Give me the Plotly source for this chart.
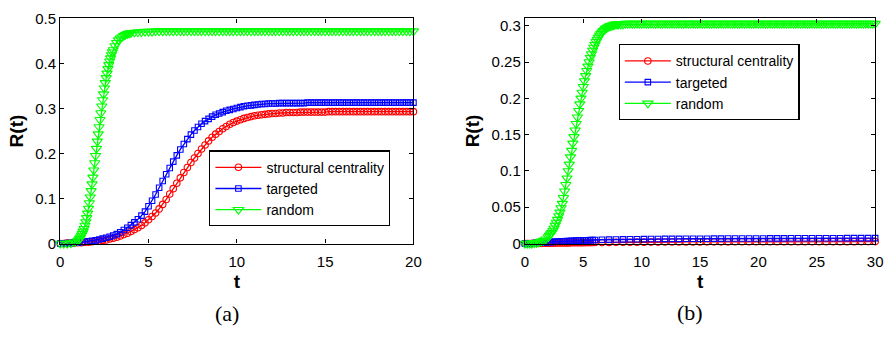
import numpy as np
import plotly.graph_objects as go

# ---------------- panel (a): t in [0, 20] ----------------
t_a = np.round(np.arange(0, 20.001, 0.2), 2)

r_a_structural = [
    0.000, 0.000, 0.001, 0.001, 0.001, 0.002, 0.002, 0.003, 0.003, 0.004,
    0.005, 0.006, 0.007, 0.008, 0.010, 0.012, 0.014, 0.017, 0.020, 0.023,
    0.027, 0.031, 0.035, 0.040, 0.046, 0.053, 0.060, 0.068, 0.077, 0.087,
    0.098, 0.110, 0.122, 0.134, 0.146, 0.158, 0.169, 0.180, 0.190, 0.200,
    0.210, 0.219, 0.228, 0.236, 0.243, 0.249, 0.255, 0.260, 0.265, 0.269,
    0.272, 0.275, 0.278, 0.280, 0.282, 0.284, 0.285, 0.286, 0.287, 0.288,
    0.289, 0.289, 0.290, 0.290, 0.291, 0.291, 0.291, 0.291, 0.292, 0.292,
    0.292, 0.292, 0.292, 0.292, 0.292, 0.292, 0.293, 0.293, 0.293, 0.293,
    0.293, 0.293, 0.293, 0.293, 0.293, 0.293, 0.293, 0.293, 0.293, 0.293,
    0.293, 0.293, 0.293, 0.293, 0.293, 0.293, 0.293, 0.293, 0.293, 0.293,
    0.293,
]

r_a_targeted = [
    0.000, 0.000, 0.001, 0.001, 0.002, 0.002, 0.003, 0.004, 0.005, 0.006,
    0.007, 0.009, 0.011, 0.013, 0.015, 0.018, 0.021, 0.025, 0.030, 0.035,
    0.041, 0.047, 0.054, 0.062, 0.071, 0.083, 0.095, 0.109, 0.124, 0.139,
    0.154, 0.168, 0.182, 0.196, 0.209, 0.221, 0.232, 0.242, 0.251, 0.259,
    0.266, 0.272, 0.277, 0.282, 0.286, 0.289, 0.292, 0.295, 0.297, 0.299,
    0.301, 0.303, 0.305, 0.306, 0.307, 0.308, 0.309, 0.310, 0.310, 0.311,
    0.311, 0.311, 0.312, 0.312, 0.312, 0.312, 0.312, 0.312, 0.312, 0.312,
    0.313, 0.313, 0.313, 0.313, 0.313, 0.313, 0.313, 0.313, 0.313, 0.313,
    0.313, 0.313, 0.313, 0.313, 0.313, 0.313, 0.313, 0.313, 0.313, 0.313,
    0.313, 0.313, 0.313, 0.313, 0.313, 0.313, 0.313, 0.313, 0.313, 0.313,
    0.313,
]

# the random-removal curve is sampled more finely where it climbs
t_a_random = np.round(np.concatenate([
    np.arange(0, 0.81, 0.2),
    np.arange(1.0, 3.001, 0.05),
    np.arange(3.1, 4.001, 0.1),
    np.arange(4.2, 20.001, 0.2),
]), 2)

r_a_random = [
    0.000, 0.000, 0.000, 0.001, 0.003,
    0.006, 0.008, 0.011, 0.014, 0.018, 0.022, 0.027, 0.033, 0.040, 0.048,
    0.057, 0.067, 0.078, 0.090, 0.103, 0.117, 0.132, 0.147, 0.163, 0.179,
    0.195, 0.211, 0.227, 0.243, 0.259, 0.275, 0.290, 0.305, 0.319, 0.332,
    0.345, 0.357, 0.368, 0.378, 0.388, 0.397, 0.405, 0.412, 0.419, 0.425,
    0.430,
    0.439, 0.446, 0.452, 0.456, 0.459, 0.462, 0.464, 0.466, 0.467, 0.468,
    0.469, 0.470, 0.470, 0.471, 0.471, 0.471, 0.472, 0.472, 0.472, 0.472,
    0.472, 0.472, 0.472, 0.472, 0.472, 0.472, 0.472, 0.472, 0.472, 0.472,
    0.472, 0.472, 0.472, 0.472, 0.472, 0.472, 0.472, 0.472, 0.472, 0.472,
    0.472, 0.472, 0.472, 0.472, 0.472, 0.472, 0.472, 0.472, 0.472, 0.472,
    0.472, 0.472, 0.472, 0.472, 0.472, 0.472, 0.472, 0.472, 0.472, 0.472,
    0.472, 0.472, 0.472, 0.472, 0.472, 0.472, 0.472, 0.472, 0.472, 0.472,
    0.472, 0.472, 0.472, 0.472, 0.472, 0.472, 0.472, 0.472, 0.472, 0.472,
    0.472, 0.472, 0.472, 0.472, 0.472, 0.472, 0.472, 0.472, 0.472, 0.472,
]

# ---------------- panel (b): t in [0, 30] ----------------
t_b_slow = np.round(np.concatenate([
    np.arange(0, 6.001, 0.2),
    np.arange(6.6, 30.001, 0.6),
]), 2)

r_b_structural = [
    0.0000, 0.0000, 0.0001, 0.0001, 0.0002, 0.0002, 0.0003, 0.0003, 0.0004, 0.0004,
    0.0005, 0.0005, 0.0006, 0.0006, 0.0007, 0.0007, 0.0008, 0.0008, 0.0009, 0.0009,
    0.0010, 0.0010, 0.0011, 0.0011, 0.0012, 0.0012, 0.0013, 0.0013, 0.0013, 0.0014,
    0.0014,
    0.0015, 0.0016, 0.0017, 0.0017, 0.0018, 0.0019, 0.0019, 0.0020, 0.0020, 0.0021,
    0.0021, 0.0021, 0.0022, 0.0022, 0.0022, 0.0023, 0.0023, 0.0023, 0.0023, 0.0024,
    0.0024, 0.0024, 0.0024, 0.0024, 0.0025, 0.0025, 0.0025, 0.0025, 0.0025, 0.0025,
    0.0026, 0.0026, 0.0026, 0.0026, 0.0026, 0.0026, 0.0026, 0.0027, 0.0027, 0.0027,
]

r_b_targeted = [
    0.0000, 0.0001, 0.0003, 0.0005, 0.0007, 0.0009, 0.0011, 0.0013, 0.0015, 0.0017,
    0.0019, 0.0021, 0.0023, 0.0025, 0.0027, 0.0029, 0.0030, 0.0032, 0.0034, 0.0035,
    0.0037, 0.0038, 0.0040, 0.0041, 0.0042, 0.0044, 0.0045, 0.0046, 0.0047, 0.0048,
    0.0049,
    0.0052, 0.0054, 0.0056, 0.0058, 0.0059, 0.0060, 0.0061, 0.0062, 0.0063, 0.0064,
    0.0065, 0.0065, 0.0066, 0.0066, 0.0067, 0.0067, 0.0068, 0.0068, 0.0069, 0.0069,
    0.0069, 0.0070, 0.0070, 0.0070, 0.0071, 0.0071, 0.0071, 0.0072, 0.0072, 0.0072,
    0.0072, 0.0073, 0.0073, 0.0073, 0.0073, 0.0074, 0.0074, 0.0074, 0.0074, 0.0075,
]

t_b_random = np.round(np.concatenate([
    np.arange(0, 1.801, 0.2),
    np.arange(2.0, 7.951, 0.1),
    np.arange(8.0, 30.001, 0.2),
]), 2)

r_b_random = [
    0.000, 0.000, 0.000, 0.000, 0.001, 0.001, 0.002, 0.003, 0.004, 0.006,
    0.009, 0.011, 0.013, 0.015, 0.018, 0.021, 0.025, 0.029, 0.033, 0.038,
    0.043, 0.049, 0.055, 0.063, 0.072, 0.081, 0.090, 0.100, 0.109, 0.119,
    0.128, 0.138, 0.147, 0.156, 0.165, 0.174, 0.183, 0.192, 0.200, 0.208,
    0.216, 0.224, 0.231, 0.238, 0.244, 0.250, 0.256, 0.261, 0.266, 0.270,
    0.274, 0.278, 0.281, 0.284, 0.287, 0.289, 0.291, 0.293, 0.294, 0.296,
    0.297, 0.298, 0.299, 0.300, 0.300, 0.301, 0.301, 0.302, 0.302, 0.302,
    0.302, 0.302, 0.302, 0.303, 0.303, 0.303, 0.303, 0.303, 0.303, 0.303,
    0.303, 0.303, 0.303, 0.303, 0.303, 0.303, 0.303, 0.303, 0.303, 0.303,
    0.303, 0.303, 0.303, 0.303, 0.303, 0.303, 0.303, 0.303, 0.303, 0.303,
    0.303, 0.303, 0.303, 0.303, 0.303, 0.303, 0.303, 0.303, 0.303, 0.303,
    0.303, 0.303, 0.303, 0.303, 0.303, 0.303, 0.303, 0.303, 0.303, 0.303,
    0.303, 0.303, 0.303, 0.303, 0.303, 0.303, 0.303, 0.303, 0.303, 0.303,
    0.303, 0.303, 0.303, 0.303, 0.303, 0.303, 0.303, 0.303, 0.303, 0.303,
    0.303, 0.303, 0.303, 0.303, 0.303, 0.303, 0.303, 0.303, 0.303, 0.303,
    0.303, 0.303, 0.303, 0.303, 0.303, 0.303, 0.303, 0.303, 0.303, 0.303,
    0.303, 0.303, 0.303, 0.303, 0.303, 0.303, 0.303, 0.303, 0.303, 0.303,
    0.303, 0.303, 0.303, 0.303, 0.303, 0.303, 0.303, 0.303, 0.303, 0.303,
    0.303,
]

series_names = ["structural centrality", "targeted", "random"]
x_ticks_a = [0, 5, 10, 15, 20]
y_ticks_a = [0, 0.1, 0.2, 0.3, 0.4, 0.5]
y_labels_a = ["0", "0.1", "0.2", "0.3", "0.4", "0.5"]
x_ticks_b = [0, 5, 10, 15, 20, 25, 30]
y_ticks_b = [0, 0.05, 0.1, 0.15, 0.2, 0.25, 0.3]
y_labels_b = ["0", "0.05", "0.1", "0.15", "0.2", "0.25", "0.3"]

RED, BLUE, GREEN = "#ff0000", "#0000ff", "#00ff00"
styles = [
    dict(color=RED, symbol="circle-open", size=6.5),
    dict(color=BLUE, symbol="square-open", size=5.5),
    dict(color=GREEN, symbol="triangle-down-open", size=9),
]

W, H = 895, 337
FONT = "Liberation Sans, Arial, Helvetica, sans-serif"

fig = go.Figure()

panel_a = [(t_a, r_a_structural), (t_a, r_a_targeted), (t_a_random, r_a_random)]
panel_b = [(t_b_slow, r_b_structural), (t_b_slow, r_b_targeted), (t_b_random, r_b_random)]

for panel, xa, ya, lg in [(panel_a, "x", "y", "legend"), (panel_b, "x2", "y2", "legend2")]:
    for (tx, ry), name, st in zip(panel, series_names, styles):
        fig.add_trace(go.Scatter(
            x=tx, y=ry, name=name, mode="lines+markers",
            line=dict(color=st["color"], width=1.3),
            marker=dict(symbol=st["symbol"], size=st["size"], color=st["color"],
                        line=dict(color=st["color"], width=1.1)),
            cliponaxis=False, xaxis=xa, yaxis=ya, legend=lg,
        ))

y_bot, y_top = 1 - 247 / H, 1 - 10 / H

axis_common = dict(
    showline=True, linecolor="black", linewidth=1.3, mirror="ticks",
    ticks="inside", ticklen=4, tickwidth=1, tickcolor="black",
    showgrid=False, zeroline=False,
    tickfont=dict(family=FONT, size=15, color="black"),
)
title_font = dict(family=FONT, size=19, color="black", weight="bold")

legend_common = dict(
    xanchor="left", yanchor="top",
    bgcolor="white", bordercolor="black", borderwidth=1.2,
    font=dict(family=FONT, size=14, color="black"),
    tracegroupgap=0, itemwidth=46,
)

fig.update_layout(
    width=W, height=H,
    margin=dict(l=0, r=0, t=0, b=0),
    paper_bgcolor="white", plot_bgcolor="white",
    xaxis=dict(domain=[57 / W, 415 / W], range=[0, 20], tickvals=x_ticks_a,
               anchor="y", ticklabelstandoff=4,
               title=dict(text="t", font=title_font, standoff=6),
               **axis_common),
    yaxis=dict(domain=[y_bot, y_top], range=[0, 0.5], tickvals=y_ticks_a,
               ticktext=y_labels_a, anchor="x",
               title=dict(text="R(t)", font=title_font, standoff=6),
               **axis_common),
    xaxis2=dict(domain=[528 / W, 883 / W], range=[0, 30], tickvals=x_ticks_b,
                anchor="y2", ticklabelstandoff=4,
                title=dict(text="t", font=title_font, standoff=6),
                **axis_common),
    yaxis2=dict(domain=[y_bot, y_top], range=[0, 0.31], tickvals=y_ticks_b,
                ticktext=y_labels_b, anchor="x2",
                title=dict(text="R(t)", font=title_font, standoff=6),
                **axis_common),
    legend=dict(x=208 / W, y=1 - 149 / H, **legend_common),
    legend2=dict(x=623 / W, y=1 - 37 / H, **legend_common),
    showlegend=True,
)

caption_font = dict(family="Liberation Serif, DejaVu Serif, serif", size=22, color="black")
fig.add_annotation(text="(a)", x=226 / W, y=1 - 321 / H, xanchor="center", yanchor="middle",
                   xref="paper", yref="paper", showarrow=False, font=caption_font)
fig.add_annotation(text="(b)", x=695 / W, y=1 - 320 / H, xanchor="center", yanchor="middle",
                   xref="paper", yref="paper", showarrow=False, font=caption_font)

fig.write_html("out.html")
